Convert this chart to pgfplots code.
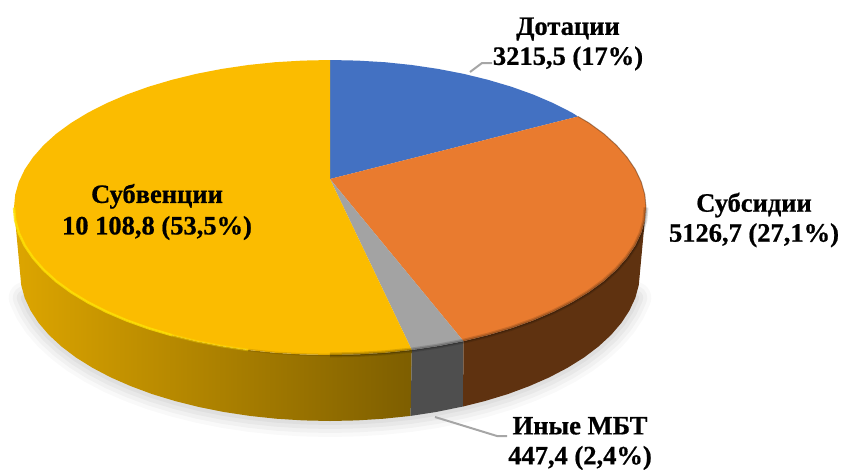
\documentclass[border=0pt]{standalone}
\usepackage{pgfplots}
\pgfplotsset{compat=1.18}
\usepackage{pgfplotstable}
\usepackage{fontspec}
\setmainfont{Liberation Serif}[BoldFeatures={FakeBold=0.7}]
\definecolor{cblue}{HTML}{4371C2}
\definecolor{corange}{HTML}{E97B2F}
\definecolor{cgray}{HTML}{A3A3A3}
\definecolor{cyellow}{HTML}{FBBC00}
\definecolor{sorange}{HTML}{5F3210}
\definecolor{sgray}{HTML}{4E4E4E}

% shadow arc under the lower rim of the side, image pixels
\pgfplotstableread{
x y
635.3 297.9
629.4 310.6
621.3 323
611 335
598.5 346.5
584 357.5
567.5 367.8
549.2 377.4
529.3 386.1
507.8 394.1
485 401
463 406.5
436 412
410.6 415.9
383.8 418.7
357 420.4
330 421
303 420.4
276.2 418.7
249.8 415.9
224 412
199 407
175 401
152.2 394.1
130.7 386.1
110.8 377.4
92.5 367.8
76 357.5
61.5 346.5
49 335
38.7 323
30.6 310.6
24.7 297.9
}\shadowrim

% top faces
\pgfplotstableread{
x y
330 179
330 60
357.6 60.6
384.9 62.2
411.8 65
438.1 68.9
463.5 73.8
488 79.8
511.3 86.7
533.1 94.5
553.4 103.2
572.1 112.7
578 116.5
}\topblue

\pgfplotstableread{
x y
330 179
578 116.5
588.9 122.9
603.7 133.7
616.4 145.2
626.9 157.1
635.2 169.3
641.2 181.9
644.8 194.6
646 207.5
644.8 220.4
641.2 233.1
635.2 245.7
626.9 257.9
616.4 269.8
603.7 281.3
588.9 292.1
572.1 302.3
553.4 311.8
533.1 320.5
511.3 328.3
488 335.2
463.5 341.2
}\toporange

\pgfplotstableread{
x y
330 179
463.5 341.2
438.1 346.1
411.8 350
}\topgray

\pgfplotstableread{
x y
330 179
411.8 350
384.9 352.8
357.6 354.4
330 355
302.4 354.4
275.1 352.8
248.2 350
221.9 346.1
196.5 341.2
172 335.2
148.7 328.3
126.9 320.5
106.6 311.8
87.9 302.3
71.1 292.1
56.3 281.3
43.6 269.8
33.1 257.9
24.8 245.7
18.8 233.1
15.2 220.4
14 207.5
15.2 194.6
18.8 181.9
24.8 169.3
33.1 157.1
43.6 145.2
56.3 133.7
71.1 122.9
87.9 112.7
106.6 103.2
126.9 94.5
148.7 86.7
172 79.8
196.5 73.8
221.9 68.9
248.2 65
275.1 62.2
302.4 60.6
330 60
}\topyellow

% side walls
\pgfplotstableread{
x y
646 207.5
644.8 220.4
641.2 233.1
635.2 245.7
626.9 257.9
616.4 269.8
603.7 281.3
588.9 292.1
572.1 302.3
553.4 311.8
533.1 320.5
511.3 328.3
488 335.2
463.5 341.2
463 406.5
485 401
507.8 394.1
529.3 386.1
549.2 377.4
567.5 367.8
584 357.5
598.5 346.5
611 335
621.3 323
629.4 310.6
635.3 297.9
638.8 285
640 272
}\sideorange

\pgfplotstableread{
x y
463.5 341.2
438.1 346.1
411.8 350
410.6 415.9
436 412
463 406.5
}\sidegray

\pgfplotstableread{
x y
411.8 350
384.9 352.8
357.6 354.4
330 355
302.4 354.4
275.1 352.8
248.2 350
221.9 346.1
196.5 341.2
172 335.2
148.7 328.3
126.9 320.5
106.6 311.8
87.9 302.3
71.1 292.1
56.3 281.3
43.6 269.8
33.1 257.9
24.8 245.7
18.8 233.1
15.2 220.4
14 207.5
20 272
21.2 285
24.7 297.9
30.6 310.6
38.7 323
49 335
61.5 346.5
76 357.5
92.5 367.8
110.8 377.4
130.7 386.1
152.2 394.1
175 401
199 407
224 412
249.8 415.9
276.2 418.7
303 420.4
330 421
357 420.4
383.8 418.7
410.6 415.9
}\sideyellow

% bevel lines along the front edge
\pgfplotstableread{
x y
646 207.5
644.8 220.4
641.2 233.1
635.2 245.7
626.9 257.9
616.4 269.8
603.7 281.3
588.9 292.1
572.1 302.3
553.4 311.8
533.1 320.5
511.3 328.3
488 335.2
463.5 341.2
438.1 346.1
411.8 350
384.9 352.8
357.6 354.4
330 355
}\rimdark

\pgfplotstableread{
x y
330 355
302.4 354.4
275.1 352.8
248.2 350
}\rimdarkfade

\pgfplotstableread{
x y
248.2 350
221.9 346.1
196.5 341.2
172 335.2
}\rimfade

\pgfplotstableread{
x y
172 335.2
148.7 328.3
126.9 320.5
106.6 311.8
87.9 302.3
71.1 292.1
56.3 281.3
43.6 269.8
33.1 257.9
24.8 245.7
18.8 233.1
15.2 220.4
14 207.5
}\rimlight

\pgfplotstableread{
x y
646 207.5
644.8 194.6
641.2 181.9
635.2 169.3
626.9 157.1
616.4 145.2
603.7 133.7
588.9 122.9
578 116.5
}\rimback

\begin{document}
\begin{tikzpicture}
\useasboundingbox (0,0) rectangle (841pt,469pt);
\begin{axis}[
  at={(0,0)}, anchor=south west,
  scale only axis, width=841pt, height=469pt,
  xmin=0, xmax=841, ymin=0, ymax=469, y dir=reverse,
  hide axis, clip=false,
  every axis plot/.append style={no marks},
]
% soft shadow
\addplot[black, opacity=.025, line width=32pt, line join=round, line cap=round] table {\shadowrim};
\addplot[black, opacity=.03, line width=24pt, line join=round, line cap=round] table {\shadowrim};
\addplot[black, opacity=.035, line width=16pt, line join=round, line cap=round] table {\shadowrim};
\addplot[black, opacity=.04, line width=8pt, line join=round, line cap=round] table {\shadowrim};

% side walls
\addplot[draw=none, left color=cyellow!88!black, right color=cyellow!50!black] table {\sideyellow} -- cycle;
\addplot[draw=none, fill=sgray] table {\sidegray} -- cycle;
\addplot[draw=none, fill=sorange] table {\sideorange} -- cycle;

% top faces
\addplot[draw=none, fill=cblue] table {\topblue} -- cycle;
\addplot[draw=none, fill=corange] table {\toporange} -- cycle;
\addplot[draw=none, fill=cgray] table {\topgray} -- cycle;
\addplot[draw=none, fill=cyellow] table {\topyellow} -- cycle;

% bevel
\addplot[black, opacity=.13, line width=5pt] table {\rimdark};
\addplot[black, opacity=.2, line width=2.5pt] table {\rimdark};
\addplot[black, opacity=.1, line width=2.5pt] table {\rimdarkfade};
\addplot[yellow!85!orange, opacity=.4, line width=2.5pt] table {\rimfade};
\addplot[yellow!85!orange, opacity=.8, line width=2.5pt] table {\rimlight};
\addplot[black!60!corange, opacity=.5, line width=1pt] table {\rimback};

% leader lines
\addplot[color=black!35, line width=2pt] coordinates {(470,72) (482,63) (492,63)};
\addplot[color=black!35, line width=2pt] coordinates {(435,417) (497,436) (507,436)};

% labels
\node[align=center, font=\bfseries\fontsize{26.5}{30}\selectfont] at (axis cs:568,44) {Дотации\\3215,5 (17\%)};
\node[align=center, font=\bfseries\fontsize{26.5}{30}\selectfont] at (axis cs:754,220) {Субсидии\\5126,7 (27,1\%)};
\node[align=center, font=\bfseries\fontsize{26.5}{31.5}\selectfont] at (axis cs:157,212) {Субвенции\\10 108,8 (53,5\%)};
\node[align=center, font=\bfseries\fontsize{26.5}{30}\selectfont] at (axis cs:580,443.5) {Иные МБТ\\447,4 (2,4\%)};
\end{axis}
\end{tikzpicture}
\end{document}
